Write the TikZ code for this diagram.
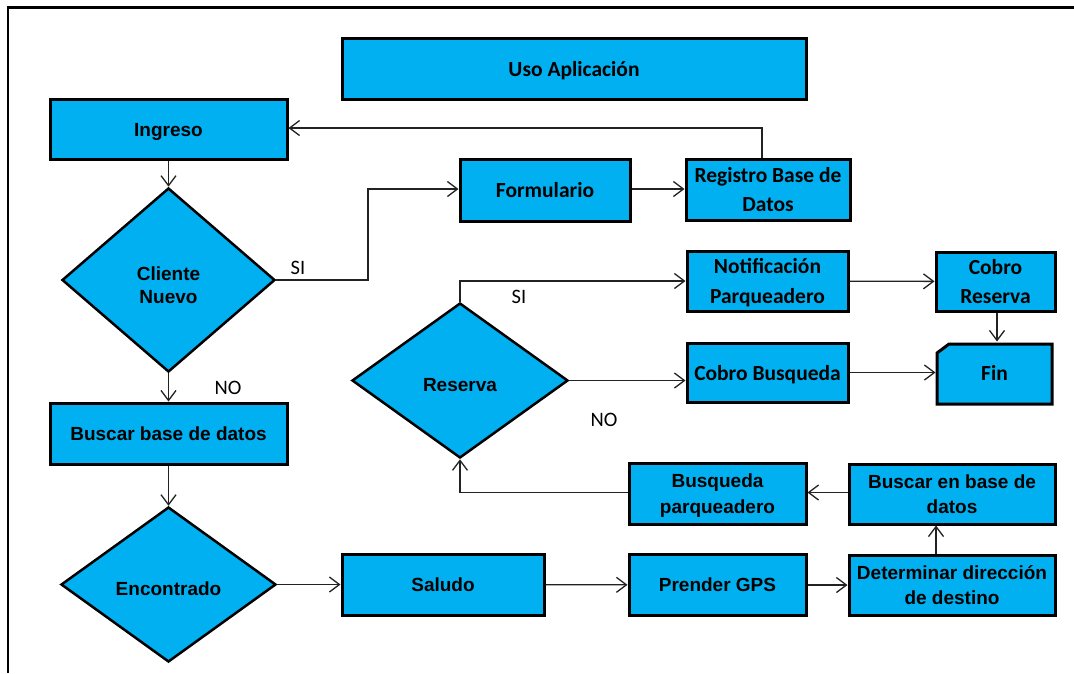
\documentclass[tikz,border=0pt]{standalone}
\usepackage{fontspec}
\usetikzlibrary{arrows.meta,shapes.geometric}
\newfontfamily\arialf{Liberation Sans}
\newfontfamily\calibf{Carlito}
\definecolor{boxblue}{HTML}{00B0F0}
\definecolor{linegray}{HTML}{222222}
\tikzset{
  basebox/.style={draw=black, line width=3pt, fill=boxblue, align=center, inner sep=1pt, text depth=0pt},
  abox/.style={basebox, font=\arialf\bfseries\fontsize{19}{25.5}\selectfont},
  cbox/.style={basebox, font=\calibf\bfseries\fontsize{21.5}{29.5}\selectfont},
  adiam/.style={diamond, draw=black, line width=2.5pt, fill=boxblue, align=center, inner sep=0pt, text height=21pt, text depth=0pt, font=\arialf\bfseries\fontsize{19}{23}\selectfont},
  conn/.style={draw=linegray, line width=1.3pt, -{Straight Barb[length=10pt,width=15pt,line width=1.3pt]}},
  lbl/.style={font=\calibf\fontsize{20.5}{24}\selectfont, inner sep=0pt},
}
\begin{document}
\begin{tikzpicture}[x=1pt,y=-1pt]
\useasboundingbox (0,0) rectangle (1074,673);
\fill[white] (0,0) rectangle (1074,673);
\draw[line width=2.2pt] (8,673) -- (8,7.5) -- (1074,7.5);

% nodes
\node[cbox, minimum width=464pt, minimum height=61pt] (uso) at (574,68.5) {Uso Aplicación};
\node[abox, minimum width=237pt, minimum height=60pt] (ingreso) at (168.5,129.5) {Ingreso};
\node[adiam, text height=46pt, minimum width=213pt, minimum height=184pt] (cliente) at (168.5,280) {Cliente\\Nuevo};
\node[abox, minimum width=237pt, minimum height=61pt] (buscarbd) at (168.5,433.5) {Buscar base de datos};
\node[adiam, minimum width=215pt, minimum height=155pt] (encontrado) at (168.5,584.5) {Encontrado};
\node[cbox, minimum width=170pt, minimum height=62pt] (formulario) at (545,190) {Formulario};
\node[cbox, minimum width=164pt, minimum height=61pt] (registro) at (768,189.5) {Registro Base de\\Datos};
\node[cbox, minimum width=161pt, minimum height=60pt] (notif) at (767.5,281) {Notificación\\Parqueadero};
\node[cbox, minimum width=119pt, minimum height=59pt] (cobrores) at (995.5,281.5) {Cobro\\Reserva};
\node[adiam, minimum width=216pt, minimum height=155pt] (reserva) at (460,380.5) {Reserva};
\node[cbox, minimum width=161pt, minimum height=59pt] (cobrobus) at (767.5,372.5) {Cobro Busqueda};
% Fin with cut corner
\draw[line width=3pt, fill=boxblue, line join=miter] (937,353) -- (949,344) -- (1052,344) -- (1052,404) -- (937,404) -- cycle;
\node[font=\calibf\bfseries\fontsize{21.5}{27}\selectfont, minimum width=115pt, minimum height=60pt, inner sep=1pt, outer sep=1.5pt, text depth=0pt] (fin) at (994.5,373) {Fin};
\node[abox, minimum width=202pt, minimum height=61pt] (saludo) at (443,584.5) {Saludo};
\node[abox, minimum width=177pt, minimum height=61pt] (prender) at (717.5,585) {Prender GPS};
\node[abox, minimum width=206pt, minimum height=60pt] (determinar) at (952,585) {Determinar dirección\\de destino};
\node[abox, minimum width=206pt, minimum height=60pt] (buscaren) at (952,494) {Buscar en base de\\datos};
\node[abox, minimum width=177pt, minimum height=61pt] (busqparq) at (717.5,493.5) {Busqueda\\parqueadero};

% coordinates for bends
\coordinate (b1) at (368,280);
\coordinate (b2) at (368,189);
\coordinate (b3) at (762,128);
\coordinate (b4) at (460,281);
\coordinate (b5) at (460,492.5);

% connectors
\draw[conn] (ingreso) -- (cliente);
\draw[conn] (cliente) -- (buscarbd);
\draw[conn] (buscarbd) -- (encontrado);
\draw[conn] (encontrado) -- (saludo);
\draw[conn] (saludo) -- (prender);
\draw[conn] (prender) -- (determinar);
\draw[conn] (determinar.north -| 936,0) -- (buscaren.south -| 936,0);
\draw[conn] (buscaren.west |- 0,492.5) -- (busqparq.east |- 0,492.5);
\draw[conn] (busqparq.west |- b5) -- (b5) -- (reserva.south);
\draw[conn] (reserva.east) -- (cobrobus.west |- reserva.east);
\draw[conn] (reserva.north) -- (b4) -- (notif.west |- b4);
\draw[conn] (notif) -- (cobrores);
\draw[conn] (cobrores.south -| 997,0) -- (fin.north -| 997,0);
\draw[conn] (cobrobus.east) -- (fin.west |- cobrobus.east);
\draw[conn] (cliente.east) -- (b1) -- (b2) -- (formulario.west |- b2);
\draw[conn] (formulario.east |- b2) -- (registro.west |- b2);
\draw[conn] (registro.north -| b3) -- (b3) -- (ingreso.east |- b3);

% labels
\node[lbl] (si1) at (298,268) {SI};
\node[lbl] (si2) at (519,297) {SI};
\node[lbl] (no1) at (228,388) {NO};
\node[lbl] (no2) at (604,420) {NO};
\end{tikzpicture}
\end{document}
